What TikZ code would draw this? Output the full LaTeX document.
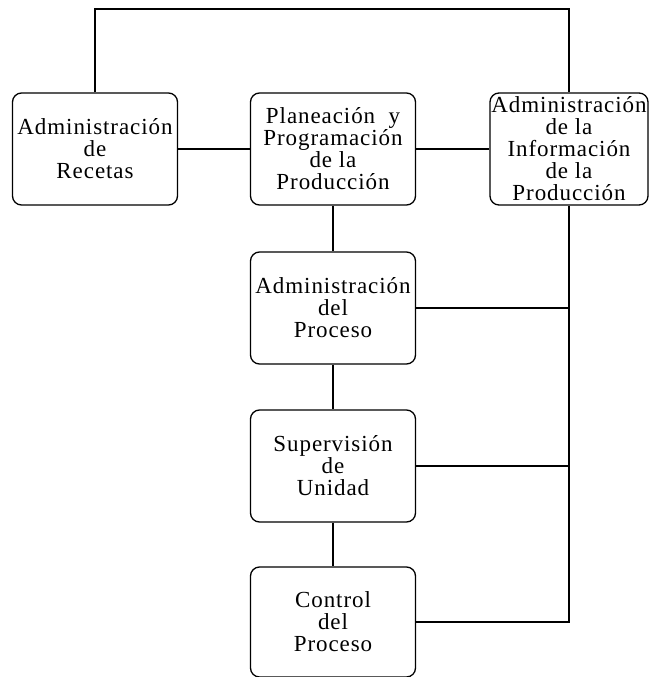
\documentclass[tikz,border=0pt]{standalone}
\usepackage{fontspec}
\setmainfont{Liberation Serif}[LetterSpace=4]
\begin{document}
\begin{tikzpicture}[x=1pt,y=-1pt,
  blk/.style={draw, rounded corners=9pt, line width=1.3pt, align=center,
    inner sep=0pt, minimum width=165pt, minimum height=112pt,
    font=\fontsize{23}{22}\selectfont},
  wire/.style={line width=1.3pt}]
\useasboundingbox (0,0) rectangle (650,677);
\node[blk] (rec) at (95,149) {Administración\\de\\Recetas};
\node[blk] (plan) at (333,149) {Planeación~~y\\Programación\\de la\\Producción};
\node[blk, minimum width=158pt] (info) at (569,149) {Administración\\de la\\Información\\de la\\Producción};
\node[blk] (proc) at (333,308) {Administración\\del\\Proceso};
\node[blk] (sup) at (333,466) {Supervisión\\de\\Unidad};
\node[blk, minimum height=110pt] (ctrl) at (333,622) {Control\\del\\Proceso};
\coordinate (top) at (333,9);
\draw[wire] (rec.north) |- (top) -| (info.north);
\draw[wire] (rec.east) -- (plan.west);
\draw[wire] (plan.east) -- (info.west);
\draw[wire] (plan.south) -- (proc.north);
\draw[wire] (proc.south) -- (sup.north);
\draw[wire] (sup.south) -- (ctrl.north);
\draw[wire] (info.south) -- (info.south |- ctrl.east) -- (ctrl.east);
\draw[wire] (proc.east) -- (proc.east -| info.south);
\draw[wire] (sup.east) -- (sup.east -| info.south);
\end{tikzpicture}
\end{document}
